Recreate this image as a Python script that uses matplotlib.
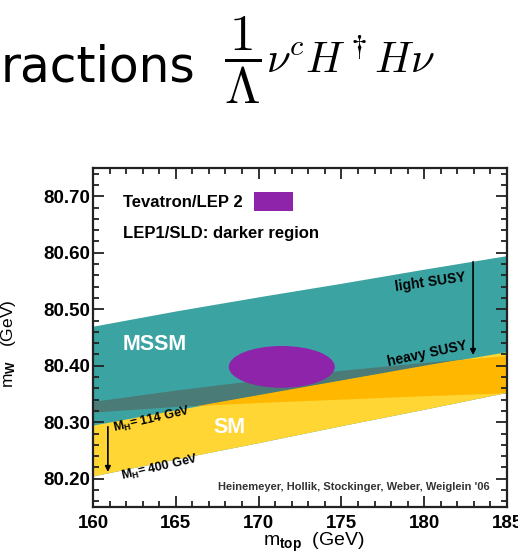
import numpy as np
import matplotlib
matplotlib.use("Agg")
import matplotlib.pyplot as plt
from matplotlib.patches import Ellipse, Rectangle

plt.rcParams['font.family'] = ['Liberation Sans', 'DejaVu Sans']
plt.rcParams['font.weight'] = 'bold'
plt.rcParams['mathtext.fontset'] = 'custom'
plt.rcParams['mathtext.rm'] = 'Liberation Sans:bold'
plt.rcParams['mathtext.it'] = 'Liberation Sans:bold'
plt.rcParams['mathtext.bf'] = 'Liberation Sans:bold'

# boundaries, m_top (GeV) -> m_W (GeV)
mtop = [160, 165, 170, 175, 180, 185]
mssm_top = [80.470, 80.497, 80.522, 80.546, 80.571, 80.595]   # light SUSY
sm_top = [80.295, 80.322, 80.348, 80.374, 80.400, 80.425]     # M_H = 114 GeV / heavy SUSY
sm_bot = [80.205, 80.235, 80.264, 80.294, 80.323, 80.353]     # M_H = 400 GeV
dark_top = [80.337, 80.357, 80.375, 80.392, 80.406, 80.418]   # LEP1/SLD band
dark_bot = [80.318, 80.328, 80.335, 80.341, 80.347, 80.352]

# Tevatron/LEP 2 ellipse
tev_center = (171.4, 80.398)
tev_width = 6.4
tev_height = 0.074

xticks = [160, 165, 170, 175, 180, 185]
yticks = [80.20, 80.30, 80.40, 80.50, 80.60, 80.70]

teal = '#3ca3a3'
dark_teal = '#4b7b77'
yellow = '#ffd633'
orange = '#ffb700'
purple = '#8e24aa'

fig = plt.figure(figsize=(5.18, 5.59), dpi=100)
ax = fig.add_axes([0.1795, 0.093, 0.7993, 0.6065])

ax.fill_between(mtop, sm_bot, mssm_top, color=teal, lw=0)
ax.fill_between(mtop, dark_bot, dark_top, color=dark_teal, lw=0)
sm = ax.fill_between(mtop, sm_bot, sm_top, color=yellow, lw=0)
dark_sm = ax.fill_between(mtop, dark_bot, dark_top, color=orange, lw=0)
dark_sm.set_clip_path(sm.get_paths()[0], ax.transData)

ax.add_patch(Ellipse(tev_center, tev_width, tev_height, color=purple, lw=0))

ax.set_xlim(160, 185)
ax.set_ylim(80.15, 80.75)
ax.set_xticks(xticks)
ax.set_yticks(yticks)
ax.set_xticks(np.arange(160, 186, 1), minor=True)
ax.set_yticks(np.arange(80.16, 80.75, 0.02), minor=True)
ax.set_yticklabels([f'{v:.2f}' for v in yticks])
ax.tick_params(which='both', direction='in', top=True, right=True, width=1.3,
               labelsize=13.5, color='#222222')
ax.tick_params(which='major', length=8)
ax.tick_params(which='minor', length=4)
ax.tick_params(axis='y', pad=2)
ax.tick_params(axis='x', pad=6)
for s in ax.spines.values():
    s.set_linewidth(1.6)
    s.set_color('#222222')

ax.set_xlabel(r'm$_\mathrm{top}$  (GeV)', fontsize=14)
ax.xaxis.set_label_coords(0.534, -0.07)
ax.set_ylabel(r'm$_\mathrm{W}$   (GeV)', fontsize=12.5)
ax.yaxis.set_label_coords(-0.181, 0.48)

# legend-like annotations
ax.text(0.0725, 0.897, 'Tevatron/LEP 2', transform=ax.transAxes, fontsize=12,
        va='center', ha='left')
ax.add_patch(Rectangle((0.389, 0.873), 0.094, 0.056, transform=ax.transAxes,
                       color=purple, lw=0))
ax.text(0.0725, 0.806, 'LEP1/SLD: darker region', transform=ax.transAxes,
        fontsize=12, va='center', ha='left')

ax.text(161.8, 80.437, 'MSSM', color='white', fontsize=15.5, va='center', ha='left')
ax.text(167.25, 80.290, 'SM', color='white', fontsize=15.5, va='center', ha='left')

ax.text(180.35, 80.548, 'light SUSY', fontsize=10, rotation=8, va='center', ha='center')
ax.text(180.2, 80.421, 'heavy SUSY', fontsize=10, rotation=12, va='center', ha='center')
ax.annotate('', xy=(182.95, 80.419), xytext=(182.95, 80.584),
            arrowprops=dict(arrowstyle='-|>', color='black', lw=1.2,
                            mutation_scale=8, shrinkA=0, shrinkB=0))

ax.text(163.55, 80.304, r'M$_\mathrm{H}$= 114 GeV', fontsize=9, rotation=13,
        va='center', ha='center')
ax.text(164.05, 80.220, r'M$_\mathrm{H}$= 400 GeV', fontsize=9, rotation=13,
        va='center', ha='center')
ax.annotate('', xy=(160.9, 80.212), xytext=(160.9, 80.292),
            arrowprops=dict(arrowstyle='-|>', color='black', lw=1.2,
                            mutation_scale=8, shrinkA=0, shrinkB=0))

ax.text(0.959, 0.059, "Heinemeyer, Hollik, Stockinger, Weber, Weiglein '06",
        transform=ax.transAxes, fontsize=8, color='#333333', va='center', ha='right')

# slide heading (cropped)
fig.text(195 / 518, 1 - 82 / 559, 'ractions', family='DejaVu Sans', fontweight='normal',
         fontsize=35, ha='right', va='baseline')
fig.text(224 / 518, 1 - 60 / 559, r'$\dfrac{1}{\Lambda}$', math_fontfamily='cm',
         fontsize=37, ha='left', va='center')
fig.text(266 / 518, 1 - 73 / 559, r'$\nu^c H^\dagger H\nu$', math_fontfamily='cm',
         fontsize=31, ha='left', va='baseline')

fig.savefig('out.png', dpi=100)
